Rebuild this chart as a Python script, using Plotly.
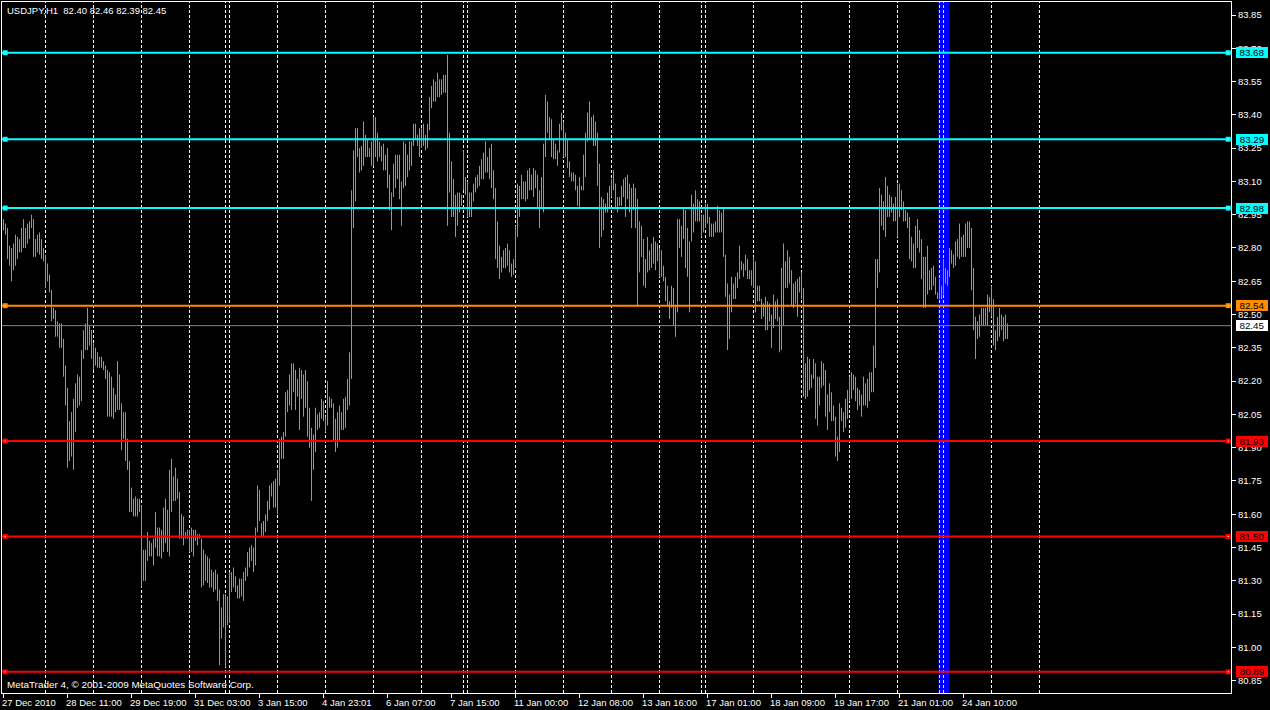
import plotly.graph_objects as go

# ---------------- data (USDJPY H1, bar index 0 = 27 Dec 2010 ~03:00) ----------------
high = [
82.93,82.91,82.89,82.81,82.80,82.82,82.86,82.85,82.84,82.89,
82.93,82.89,82.91,82.92,82.95,82.93,82.84,82.86,82.87,82.84,
82.80,82.77,82.73,82.68,82.61,82.53,82.52,82.47,82.46,82.46,
82.39,82.27,82.17,82.02,82.06,82.12,82.19,82.23,82.22,82.34,
82.43,82.46,82.53,82.45,82.43,82.37,82.35,82.33,82.31,82.31,
82.29,82.27,82.25,82.24,82.22,82.17,82.14,82.29,82.23,82.10,
82.06,82.06,81.94,81.84,81.72,81.67,81.68,81.67,81.67,81.64,
81.44,81.44,81.52,81.48,81.47,81.49,81.61,81.54,81.54,81.53,
81.63,81.67,81.62,81.80,81.85,81.77,81.81,81.76,81.70,81.60,
81.59,81.52,81.53,81.53,81.54,81.53,81.53,81.51,81.51,81.49,
81.44,81.42,81.41,81.40,81.35,81.34,81.35,81.33,81.26,81.18,
81.24,81.24,81.23,81.34,81.34,81.36,81.32,81.28,81.31,81.31,
81.34,81.36,81.43,81.45,81.46,81.45,81.54,81.73,81.71,81.56,
81.57,81.60,81.66,81.73,81.74,81.75,81.76,81.80,81.94,81.95,
81.97,82.15,82.16,82.23,82.28,82.28,82.25,82.21,82.26,82.25,
82.23,82.25,82.20,82.08,81.99,81.96,82.08,82.05,82.06,82.12,
82.11,82.04,82.20,82.13,82.12,82.10,82.03,82.06,82.09,82.06,
82.12,82.13,82.21,82.33,83.06,83.24,83.34,83.34,83.25,83.26,
83.37,83.31,83.29,83.25,83.28,83.39,83.39,83.32,83.28,83.26,
83.27,83.22,83.25,83.13,83.05,83.18,83.22,83.22,83.22,83.10,
83.28,83.27,83.22,83.28,83.28,83.36,83.36,83.31,83.34,83.34,
83.36,83.31,83.36,83.48,83.53,83.56,83.55,83.59,83.56,83.56,
83.58,83.58,83.67,83.32,83.19,83.11,83.04,83.05,83.05,83.04,
83.24,83.12,83.10,83.05,83.05,83.09,83.12,83.13,83.17,83.20,
83.23,83.28,83.21,83.25,83.27,83.15,83.07,82.92,82.81,82.76,
82.79,82.80,82.82,82.79,82.73,82.75,82.90,83.09,83.08,83.13,
83.10,83.10,83.15,83.16,83.13,83.16,83.15,83.13,83.06,83.12,
83.27,83.49,83.46,83.39,83.38,83.29,83.27,83.24,83.36,83.41,
83.37,83.32,83.29,83.19,83.14,83.14,83.13,83.08,83.12,83.08,
83.22,83.32,83.41,83.46,83.39,83.40,83.37,83.32,83.18,83.03,
83.02,83.00,83.05,83.08,83.11,83.15,83.09,83.03,83.03,83.08,
83.11,83.12,83.13,83.09,83.07,83.09,83.07,83.02,82.92,82.90,
82.84,82.75,82.85,82.79,82.82,82.85,82.83,82.82,82.80,82.79,
82.72,82.67,82.63,82.56,82.63,82.62,82.54,82.93,82.93,82.90,
82.98,82.97,82.89,82.83,83.04,83.00,83.06,83.02,83.01,82.95,
82.95,83.00,83.00,82.94,82.91,82.91,82.92,82.99,82.97,82.96,
82.98,82.77,82.64,82.59,82.67,82.64,82.67,82.69,82.81,82.74,
82.73,82.77,82.75,82.70,82.70,82.76,82.74,82.63,82.63,82.57,
82.55,82.58,82.56,82.55,82.50,82.59,82.56,82.57,82.49,82.71,
82.82,82.74,82.79,82.76,82.70,82.64,82.65,82.66,82.67,82.69,
82.62,82.28,82.31,82.30,82.23,82.30,82.28,82.22,82.22,82.29,
82.28,82.25,82.14,82.19,82.15,82.09,82.04,81.95,82.10,82.08,
82.06,82.12,82.16,82.22,82.24,82.23,82.22,82.17,82.16,82.14,
82.22,82.19,82.21,82.24,82.24,82.36,82.75,82.75,83.07,83.04,
83.01,83.12,83.08,83.04,83.03,83.00,83.03,83.09,83.09,83.06,
83.01,82.97,82.96,82.94,82.85,82.82,82.90,82.93,82.88,82.84,
82.76,82.76,82.81,82.70,82.71,82.72,82.67,82.60,82.66,82.63,
82.75,82.71,82.70,82.80,82.79,82.77,82.83,82.84,82.91,82.85,
82.86,82.91,82.92,82.92,82.89,82.71,82.49,82.47,82.50,82.53,
82.53,82.53,82.59,82.58,82.63,82.57,82.43,82.49,82.53,82.50,
82.49,82.50,82.46]

low = [
82.88,82.86,82.75,82.72,82.65,82.70,82.72,82.75,82.78,82.78,
82.80,82.80,82.82,82.84,82.89,82.76,82.76,82.78,82.77,82.75,
82.74,82.62,82.65,82.60,82.47,82.48,82.40,82.40,82.35,82.35,
82.22,82.09,81.81,81.84,81.86,81.80,81.97,82.08,82.09,82.11,
82.30,82.34,82.34,82.36,82.30,82.25,82.27,82.26,82.26,82.26,
82.25,82.21,82.04,82.04,82.04,82.03,82.06,82.07,82.07,81.89,
81.94,81.84,81.80,81.61,81.61,81.59,81.59,81.59,81.61,81.27,
81.30,81.30,81.39,81.41,81.41,81.37,81.45,81.41,81.41,81.40,
81.43,81.47,81.43,81.41,81.61,81.66,81.66,81.67,81.49,81.49,
81.46,81.49,81.49,81.43,81.43,81.41,81.48,81.46,81.49,81.27,
81.28,81.30,81.29,81.27,81.27,81.25,81.26,81.21,80.92,81.04,
81.09,80.91,81.10,81.11,81.25,81.27,81.25,81.22,81.22,81.23,
81.21,81.30,81.32,81.36,81.39,81.34,81.37,81.52,81.57,81.50,
81.50,81.52,81.57,81.62,81.68,81.63,81.63,81.60,81.73,81.85,
81.85,81.95,82.06,82.09,82.07,82.15,82.07,82.13,81.98,82.12,
82.04,82.08,81.95,81.90,81.66,81.80,81.88,81.98,81.99,82.03,
82.02,81.97,82.00,82.08,82.08,81.93,81.88,81.90,81.93,81.98,
81.98,81.99,82.07,82.09,82.21,82.89,83.01,83.21,83.14,83.15,
83.17,83.21,83.21,83.21,83.17,83.17,83.21,83.19,83.21,83.19,
83.15,83.15,83.07,82.97,82.88,83.03,83.07,83.11,83.02,82.90,
83.07,83.08,83.12,83.15,83.17,83.26,83.29,83.26,83.21,83.25,
83.26,83.24,83.25,83.33,83.43,83.46,83.46,83.48,83.48,83.49,
83.50,83.50,82.90,83.05,82.94,82.94,82.85,82.90,82.96,82.99,
83.06,83.04,82.94,82.94,82.94,83.01,83.05,83.07,83.08,83.11,
83.11,83.14,83.14,83.11,83.07,83.02,82.75,82.71,82.66,82.69,
82.71,82.71,82.72,82.69,82.67,82.68,82.71,82.85,82.94,83.02,
83.02,83.01,83.02,83.06,83.06,83.03,83.07,82.98,82.89,82.98,
82.96,83.21,83.32,83.29,83.21,83.20,83.20,83.17,83.23,83.33,
83.21,83.21,83.16,83.12,83.10,83.10,83.06,82.99,82.98,83.06,
83.06,83.12,83.28,83.29,83.29,83.26,83.26,83.08,82.80,82.85,
82.88,82.96,82.96,82.98,83.03,83.06,82.98,82.96,82.99,82.99,
83.03,82.94,83.02,82.96,82.89,82.97,82.89,82.54,82.69,82.76,
82.63,82.62,82.69,82.70,82.71,82.73,82.70,82.74,82.67,82.67,
82.65,82.56,82.54,82.48,82.53,82.45,82.40,82.51,82.80,82.76,
82.84,82.71,82.67,82.51,82.83,82.87,82.92,82.92,82.92,82.85,
82.87,82.89,82.91,82.85,82.85,82.85,82.87,82.87,82.87,82.87,
82.76,82.58,82.34,82.39,82.51,82.57,82.57,82.62,82.66,82.70,
82.67,82.70,82.66,82.66,82.63,82.62,82.51,82.56,82.56,82.48,
82.49,82.43,82.43,82.47,82.35,82.44,82.48,82.47,82.33,82.34,
82.45,82.62,82.62,82.64,82.54,82.53,82.55,82.49,82.60,82.57,
82.13,82.12,82.13,82.16,82.17,82.21,82.03,82.00,82.09,82.17,
82.18,82.04,81.98,82.06,82.02,82.02,81.86,81.84,81.88,82.02,
81.97,81.99,82.03,82.11,82.12,82.16,82.11,82.07,82.09,82.04,
82.09,82.09,82.08,82.11,82.15,82.15,82.26,82.62,82.69,82.90,
82.88,82.85,82.94,82.94,82.96,82.92,82.92,82.85,82.94,82.97,
82.92,82.92,82.89,82.75,82.74,82.71,82.71,82.80,82.78,82.66,
82.53,82.53,82.59,82.61,82.61,82.63,82.59,82.57,82.57,82.57,
82.59,82.64,82.63,82.67,82.73,82.71,82.72,82.76,82.75,82.76,
82.76,82.76,82.80,82.80,82.61,82.43,82.30,82.39,82.40,82.45,
82.45,82.45,82.45,82.51,82.49,82.36,82.34,82.38,82.40,82.43,
82.38,82.39,82.39]

# time labels (bar index -> text)
time_label_idx = [0, 32, 64, 96, 128, 160, 192, 224, 256, 288, 320, 352, 384, 416, 448, 480]
time_label_txt = ["27 Dec 2010", "28 Dec 11:00", "29 Dec 19:00", "31 Dec 03:00", "3 Jan 15:00",
                  "4 Jan 23:01", "6 Jan 07:00", "7 Jan 15:00", "11 Jan 00:00", "12 Jan 08:00",
                  "13 Jan 16:00", "17 Jan 01:00", "18 Jan 09:00", "19 Jan 17:00", "21 Jan 01:00",
                  "24 Jan 10:00"]

# day separators (bar index of each day start)
day_sep_white = [21, 45, 69, 93, 111, 113, 137, 161, 185, 209, 230, 232, 256, 280, 304, 328,
                 349, 351, 375, 399, 423, 447, 494, 518]
day_sep_yellow = [468, 470]

# price axis ticks
price_ticks = [83.85, 83.70, 83.55, 83.40, 83.25, 83.10, 82.95, 82.80, 82.65, 82.50, 82.35,
               82.20, 82.05, 81.90, 81.75, 81.60, 81.45, 81.30, 81.15, 81.00, 80.85]

# horizontal line objects
hline_prices = [83.68, 83.29, 82.98, 82.54, 81.93, 81.50, 80.89]
hline_colors = ["#00FFFF", "#00FFFF", "#00FFFF", "#FF8C00", "#FF0000", "#FF0000", "#FF0000"]
bid_price = 82.45

# highlighted vertical band (bar index range)
band_start, band_end = 467.5, 472.75

header = "USDJPY,H1  82.40 82.46 82.39 82.45"
footer = "MetaTrader 4, \u00a9 2001-2009 MetaQuotes Software Corp."

# ---------------- figure ----------------
FONT = "Liberation Sans, Arial, sans-serif"
BAR_COLOR = "#00FF00"

xs, ys = [], []
for i, (h, l) in enumerate(zip(high, low)):
    xs += [i, i, None]
    ys += [l, h, None]

fig = go.Figure()
fig.add_trace(go.Scatter(x=xs, y=ys, mode="lines", line=dict(color=BAR_COLOR, width=1),
                         hoverinfo="skip", showlegend=False, connectgaps=False))

shapes = []
# blue band
shapes.append(dict(type="rect", xref="x", yref="paper", x0=band_start, x1=band_end, y0=0, y1=1,
                   fillcolor="#0000FF", line=dict(width=0), layer="below"))
for d in day_sep_white:
    shapes.append(dict(type="line", xref="x", yref="paper", x0=d, x1=d, y0=0, y1=1,
                       line=dict(color="#FFFFFF", width=1, dash="3px,2px"), layer="below"))
for d in day_sep_yellow:
    shapes.append(dict(type="line", xref="x", yref="paper", x0=d, x1=d, y0=0, y1=1,
                       line=dict(color="#FFFF00", width=1, dash="3px,2px"), layer="below"))
# bid line
shapes.append(dict(type="line", xref="paper", yref="y", x0=0, x1=1, y0=bid_price, y1=bid_price,
                   line=dict(color="#778899", width=1), layer="above"))
# horizontal lines + end markers
for p, c in zip(hline_prices, hline_colors):
    shapes.append(dict(type="line", xref="paper", yref="y", x0=0, x1=1, y0=p, y1=p,
                       line=dict(color=c, width=2), layer="above"))
    for anchor, a0, a1 in [(0, 0.7, 5.7), (1, -5.3, -0.3)]:
        shapes.append(dict(type="rect", xref="paper", yref="y", xsizemode="pixel", ysizemode="pixel",
                           xanchor=anchor, yanchor=p, x0=a0, x1=a1, y0=-2.5, y1=2.5,
                           fillcolor=c, line=dict(width=0), layer="above"))
        mid = (a0 + a1) / 2
        shapes.append(dict(type="rect", xref="paper", yref="y", xsizemode="pixel", ysizemode="pixel",
                           xanchor=anchor, yanchor=p, x0=mid - 0.5, x1=mid + 0.5, y0=-0.5, y1=0.5,
                           fillcolor="#FFFFFF", line=dict(width=0), layer="above"))

annotations = []
# price tags
for p, c in zip(hline_prices, hline_colors):
    annotations.append(dict(xref="paper", yref="y", x=1, y=p, xanchor="left", yanchor="middle",
                            xshift=5, text="%.2f" % p, showarrow=False, bgcolor=c, borderpad=0,
                            borderwidth=0, width=32, height=11, align="center",
                            font=dict(family=FONT, size=9.8, color="#000000")))
annotations.append(dict(xref="paper", yref="y", x=1, y=bid_price, xanchor="left", yanchor="middle",
                        xshift=5, text="%.2f" % bid_price, showarrow=False, bgcolor="#FFFFFF",
                        borderpad=0, borderwidth=0, width=32, height=11, align="center",
                        font=dict(family=FONT, size=9.8, color="#000000")))
# time labels
for idx, t in zip(time_label_idx, time_label_txt):
    annotations.append(dict(xref="x", yref="paper", x=idx, y=-0.0142, xanchor="left", yanchor="middle",
                            xshift=-4, text=t, showarrow=False,
                            font=dict(family=FONT, size=9.5, color="#FFFFFF")))
annotations.append(dict(xref="paper", yref="paper", x=0, y=0.988, xanchor="left", yanchor="middle",
                        xshift=3.3, text=header, showarrow=False,
                        font=dict(family=FONT, size=9.5, color="#FFFFFF")))
annotations.append(dict(xref="paper", yref="paper", x=0, y=0.0116, xanchor="left", yanchor="middle",
                        xshift=2.7, text=footer, showarrow=False,
                        font=dict(family=FONT, size=9.9, color="#FFFFFF")))

fig.update_layout(
    width=1270, height=710,
    margin=dict(l=2, r=39, t=2, b=17, pad=0),
    paper_bgcolor="#000000", plot_bgcolor="#000000",
    shapes=shapes, annotations=annotations,
    showlegend=False, hovermode=False,
    xaxis=dict(range=[-0.75, 613.75], showgrid=False, zeroline=False,
               showline=True, linecolor="#FFFFFF", linewidth=1, mirror=True,
               tickvals=time_label_idx, ticks="outside", ticklen=4, tickcolor="#FFFFFF",
               showticklabels=False, fixedrange=True),
    yaxis=dict(range=[80.7945, 83.9086], side="right", showgrid=False, zeroline=False,
               showline=True, linecolor="#FFFFFF", linewidth=1, mirror=True,
               tickvals=price_ticks, ticktext=["%.2f" % v for v in price_ticks],
               ticks="outside", ticklen=4, tickcolor="#FFFFFF",
               tickfont=dict(family=FONT, size=9.5, color="#FFFFFF"), fixedrange=True),
)

fig.write_html("out.html", config={"displayModeBar": False},
               post_script="document.body.style.margin='0';document.body.style.overflow='hidden';"
                           "document.body.style.background='#000';")
